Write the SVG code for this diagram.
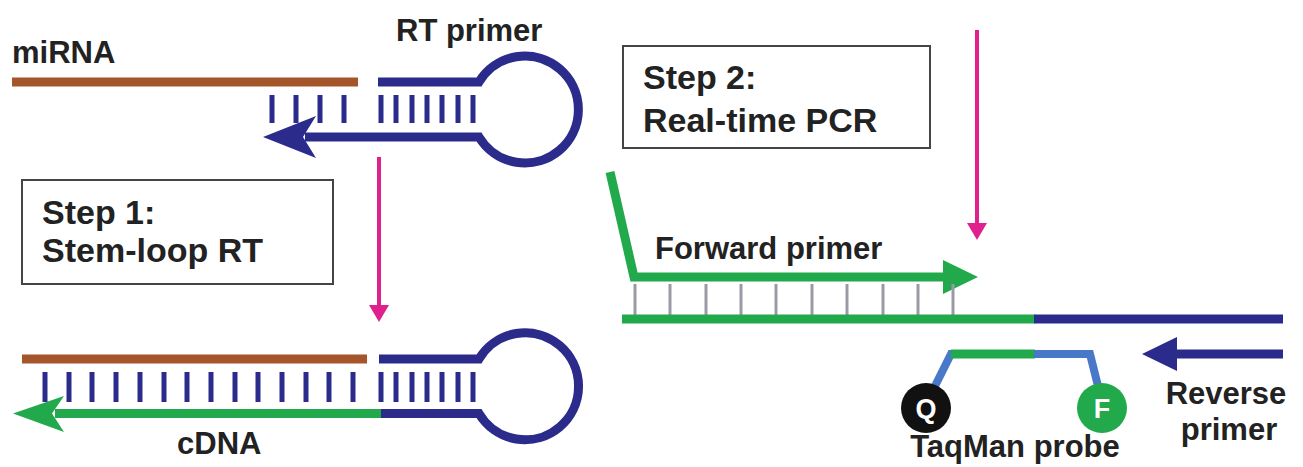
<svg xmlns="http://www.w3.org/2000/svg" width="1303" height="467" viewBox="0 0 1303 467">
<style>
.t{font-family:"Liberation Sans",Arial,sans-serif;font-weight:bold;font-size:31px;fill:#222}
.b{font-family:"Liberation Sans",Arial,sans-serif;font-weight:bold;font-size:34px;fill:#222}
.w{font-family:"Liberation Sans",Arial,sans-serif;font-weight:bold;font-size:27px;fill:#fff}
.rna{stroke:#a5552a;stroke-width:9;fill:none}
.nv{stroke:#2b2b8c;stroke-width:9;fill:none}
.gr{stroke:#22a94c;stroke-width:9;fill:none}
.tk{stroke:#2b2b8c;stroke-width:5}
.gt{stroke:#9a9aa6;stroke-width:3}
.mg{stroke:#e0208c;stroke-width:4}
.box{fill:#fff;stroke:#444;stroke-width:2}
.pb{stroke:#4a78c8;stroke-width:8;fill:none}
</style>
<rect width="1303" height="467" fill="#fff"/>
<g id="connectors">
  <line class="mg" x1="379" y1="157" x2="379" y2="308"/>
  <polygon points="369,305 389,305 379,322" fill="#e0208c"/>
  <line class="mg" x1="977" y1="30" x2="977" y2="226"/>
  <polygon points="967,223 987,223 977,240" fill="#e0208c"/>
</g>
<g id="step1-top">
  <line class="rna" x1="12" y1="82" x2="358" y2="82"/>
  <path class="nv" d="M378 82 H479 A53.5 53.5 0 1 1 479 137 H305"/>
  <polygon points="263,137 316,116 303,137 316,158" fill="#2b2b8c"/>
  <g class="tk">
    <line x1="272" y1="95" x2="272" y2="123"/><line x1="296" y1="95" x2="296" y2="123"/>
    <line x1="320" y1="95" x2="320" y2="123"/><line x1="344" y1="95" x2="344" y2="123"/>
    <line x1="381" y1="95" x2="381" y2="123"/><line x1="396" y1="95" x2="396" y2="123"/>
    <line x1="412" y1="95" x2="412" y2="123"/><line x1="427" y1="95" x2="427" y2="123"/>
    <line x1="442" y1="95" x2="442" y2="123"/><line x1="458" y1="95" x2="458" y2="123"/>
    <line x1="473" y1="95" x2="473" y2="123"/>
  </g>
  <text class="t" x="12" y="63">miRNA</text>
  <text class="t" x="396" y="41">RT primer</text>
</g>
<g id="step1-box">
  <rect class="box" x="22" y="180" width="311" height="104"/>
  <text class="b" x="42" y="224">Step 1:</text>
  <text class="b" x="42" y="262">Stem-loop RT</text>
</g>
<g id="step1-bottom">
  <line class="rna" x1="22" y1="359" x2="367" y2="359"/>
  <path class="nv" d="M379 359 H479 A53.5 53.5 0 1 1 479 413.5 H380"/>
  <line class="gr" x1="381" y1="413.5" x2="55" y2="413.5"/>
  <polygon points="13,413.5 64,396 52,413.5 64,432" fill="#22a94c"/>
  <g class="tk">
    <line x1="45" y1="372" x2="45" y2="402"/><line x1="69" y1="372" x2="69" y2="402"/>
    <line x1="92" y1="372" x2="92" y2="402"/><line x1="116" y1="372" x2="116" y2="402"/>
    <line x1="140" y1="372" x2="140" y2="402"/><line x1="164" y1="372" x2="164" y2="402"/>
    <line x1="187" y1="372" x2="187" y2="402"/><line x1="211" y1="372" x2="211" y2="402"/>
    <line x1="235" y1="372" x2="235" y2="402"/><line x1="258" y1="372" x2="258" y2="402"/>
    <line x1="282" y1="372" x2="282" y2="402"/><line x1="306" y1="372" x2="306" y2="402"/>
    <line x1="329" y1="372" x2="329" y2="402"/><line x1="353" y1="372" x2="353" y2="402"/>
    <line x1="381" y1="372" x2="381" y2="402"/><line x1="396" y1="372" x2="396" y2="402"/>
    <line x1="412" y1="372" x2="412" y2="402"/><line x1="427" y1="372" x2="427" y2="402"/>
    <line x1="442" y1="372" x2="442" y2="402"/><line x1="458" y1="372" x2="458" y2="402"/>
    <line x1="473" y1="372" x2="473" y2="402"/>
  </g>
  <text class="t" x="177" y="454">cDNA</text>
</g>
<g id="step2-box">
  <rect class="box" x="623" y="46" width="307" height="102"/>
  <text class="b" x="643" y="89">Step 2:</text>
  <text class="b" x="643" y="132">Real-time PCR</text>
</g>
<g id="forward-primer">
  <path class="gr" d="M610 172 L634 277 H950"/>
  <polygon points="978,277 943,260 943,294" fill="#22a94c"/>
  <text class="t" x="655" y="259">Forward primer</text>
</g>
<g id="template">
  <g class="gt">
    <line x1="635" y1="284" x2="635" y2="315"/><line x1="670" y1="284" x2="670" y2="315"/>
    <line x1="706" y1="284" x2="706" y2="315"/><line x1="741" y1="284" x2="741" y2="315"/>
    <line x1="776" y1="284" x2="776" y2="315"/><line x1="812" y1="284" x2="812" y2="315"/>
    <line x1="847" y1="284" x2="847" y2="315"/><line x1="883" y1="284" x2="883" y2="315"/>
    <line x1="918" y1="284" x2="918" y2="315"/><line x1="953" y1="284" x2="953" y2="315"/>
  </g>
  <line class="gr" x1="622" y1="319" x2="1035" y2="319"/>
  <line class="nv" x1="1034" y1="319" x2="1283" y2="319"/>
</g>
<g id="taqman-probe">
  <path class="pb" d="M935 386 L951 354 H960"/>
  <line class="gr" x1="951" y1="354" x2="1035" y2="354" stroke-width="8"/>
  <path class="pb" d="M1034 354 H1090 L1098 386"/>
  <circle cx="926" cy="408" r="25" fill="#111"/>
  <text class="w" x="926" y="418" text-anchor="middle">Q</text>
  <circle cx="1102" cy="408" r="25" fill="#22a94c"/>
  <text class="w" x="1102" y="418" text-anchor="middle">F</text>
  <text class="t" x="1015" y="457" text-anchor="middle">TaqMan probe</text>
</g>
<g id="reverse-primer">
  <line class="nv" x1="1170" y1="354" x2="1283" y2="354"/>
  <polygon points="1142,354 1177,337 1177,371" fill="#2b2b8c"/>
  <text class="t" x="1226" y="404" text-anchor="middle">Reverse</text>
  <text class="t" x="1229" y="440" text-anchor="middle">primer</text>
</g>
</svg>
